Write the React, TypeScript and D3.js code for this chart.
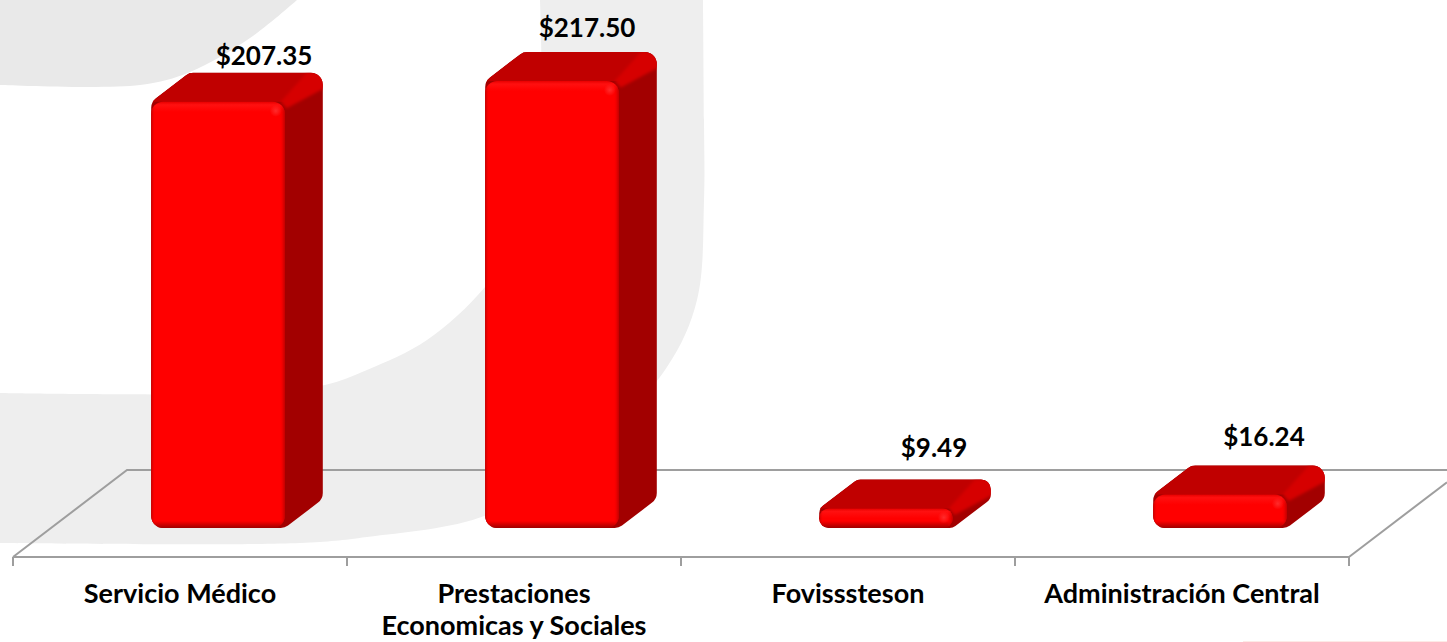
import React from 'react'
import * as d3 from 'd3'

const categories = ['Servicio Médico', 'Prestaciones\nEconomicas y Sociales', 'Fovisssteson', 'Administración Central']
const values = [207.35, 217.5, 9.49, 16.24]
const valueLabels = ['$207.35', '$217.50', '$9.49', '$16.24']

const width = 1447
const height = 642

// 3d projection of the chart floor: a bar is one third of the floor deep
const depthX = 38
const depthY = 29
const floorFront = 557

// the value labels were dragged by hand in the original chart
const labelShift = [[46, -8], [35, -15], [48, -22], [44, -20]]

// grey letter behind the chart
const markTop: [number, number][] = [[0, 85], [140, 85], [190, 72], [250, 38], [297, 0]]
const markOuter: [number, number][] = [[703, 0], [704, 120], [704, 200], [697, 300], [667, 367], [590, 450], [487, 515], [367, 537], [300, 543], [0, 543]]
const markInner: [number, number][] = [[0, 393], [250, 393], [325, 385], [367, 370], [427, 340], [485, 287], [525, 225], [540, 150], [540, 0]]

const x = d3.scaleBand<string>().domain(categories).range([13, 1349]).paddingInner(0.6).paddingOuter(0.3)
const y = d3.scaleLinear().domain([0, 217.5]).range([floorFront - depthY, 81])

function roundedPoly(points: [number, number][], r: number) {
  const p = d3.path()
  const n = points.length
  const last = points[n - 1]
  p.moveTo((last[0] + points[0][0]) / 2, (last[1] + points[0][1]) / 2)
  points.forEach((pt, i) => {
    const next = points[(i + 1) % n]
    p.arcTo(pt[0], pt[1], next[0], next[1], r)
  })
  p.closePath()
  return p.toString()
}

const curve = d3.line().curve(d3.curveCatmullRom.alpha(0.5))

function Bar({ category, value, i }: { category: string; value: number; i: number }) {
  const x0 = x(category) as number + depthX
  const x1 = x0 + x.bandwidth()
  const yBottom = y(0)
  const yTop = y(value)
  const h = yBottom - yTop
  const r = Math.min(12, h / 2)

  const outline = roundedPoly([
    [x0, yBottom], [x0, yTop], [x0 + depthX, yTop - depthY], [x1 + depthX, yTop - depthY],
    [x1 + depthX, yBottom - depthY], [x1, yBottom],
  ], r)
  const bevelHeight = 13

  return (
    <g>
      <clipPath id={`clip-${i}`}><path d={outline} /></clipPath>
      <linearGradient id={`front-${i}`} gradientUnits="userSpaceOnUse" x1={0} x2={0} y1={yTop} y2={yBottom}>
        <stop offset={0} stopColor="#e80000" />
        <stop offset={Math.min(0.5, 3 / h)} stopColor="#ff1010" />
        <stop offset={Math.min(0.5, 10 / h)} stopColor="#ff0000" />
        <stop offset={Math.max(0.5, 1 - 7 / h)} stopColor="#ff0000" />
        <stop offset={1} stopColor="#a00000" />
      </linearGradient>
      <path d={outline} fill="#a20000" />
      <g clipPath={`url(#clip-${i})`}>
        <polygon
          points={[[x0, yTop], [x0 + depthX, yTop - depthY], [x1 + depthX, yTop - depthY], [x1, yTop]].join(' ')}
          fill="#c00000"
        />
        <polygon
          points={[[x1 - 4, yTop], [x1 + depthX - 16, yTop - depthY], [x1 + depthX + 6, yTop - depthY], [x1 + depthX + 6, yTop - depthY + bevelHeight], [x1 + 2, yTop + bevelHeight * 0.5]].join(' ')}
          fill="#d60000"
          filter="url(#soft)"
        />
      </g>
      <rect x={x0} y={yTop} width={x1 - x0} height={h} rx={r} fill={`url(#front-${i})`} />
      <rect x={x0} y={yTop} width={x1 - x0} height={h} rx={r} fill="url(#edges)" />
      <circle cx={x1 - 9} cy={yTop + Math.min(9, h / 2)} r={6} fill="url(#spot)" />
    </g>
  )
}

export default function App() {
  const step = x.step()
  const [start, end] = x.range()
  const ticks = d3.range(categories.length + 1).map(i => start + i * step)
  const floorDX = depthX * 3
  const floorDY = depthY * 3
  const floorBack = floorFront - floorDY
  const rightDX = width - end

  return (
    <svg width={width} height={height} style={{ position: 'absolute', left: 0, top: 0, display: 'block' }}>
      <defs>
        <linearGradient id="edges" x1={0} x2={1} y1={0} y2={0}>
          <stop offset={0} stopColor="#a00000" stopOpacity={0.65} />
          <stop offset={0.03} stopColor="#ff0000" stopOpacity={0} />
          <stop offset={0.96} stopColor="#ff0000" stopOpacity={0} />
          <stop offset={1} stopColor="#b00000" stopOpacity={0.8} />
        </linearGradient>
        <radialGradient id="spot">
          <stop offset={0} stopColor="#ff3030" stopOpacity={0.9} />
          <stop offset={1} stopColor="#ff3030" stopOpacity={0} />
        </radialGradient>
        <filter id="soft" x="-20%" y="-20%" width="140%" height="140%">
          <feGaussianBlur stdDeviation={1.5} />
        </filter>
      </defs>

      <rect width={width} height={height} fill="#ffffff" />
      <path d={'M0,0L297,0L' + curve([...markTop].reverse())!.slice(1) + 'Z'} fill="#e9e9e9" />
      <path d={curve(markOuter) + 'L' + curve(markInner)!.slice(1) + 'Z'} fill="#eeeeee" />
      <rect x={1243} y={641} width={204} height={1} fill="#fdeae6" />

      <g stroke="#9e9e9e" strokeWidth={2} fill="none">
        <path d={`M${start},${floorFront}H${end}`} />
        <path d={`M${start},${floorFront}L${start + floorDX},${floorBack}H${width}`} />
        <path d={`M${end},${floorFront}L${width},${floorFront - rightDX * floorDY / floorDX}`} />
        {ticks.map(t => <line key={t} x1={t} x2={t} y1={floorFront} y2={floorFront + 9} />)}
      </g>

      {categories.map((c, i) => <Bar key={c} category={c} value={values[i]} i={i} />)}

      <g fontFamily="Lato" fontWeight={700} fill="#000000" textAnchor="middle">
        {categories.map((c, i) => {
          const barCentre = (x(c) as number) + depthX + x.bandwidth() / 2
          return (
            <text key={c} x={barCentre + labelShift[i][0]} y={y(values[i]) - depthY + labelShift[i][1]} fontSize={26}>
              {valueLabels[i]}
            </text>
          )
        })}
        {categories.map(c => (
          <text key={c} fontSize={27}>
            {c.split('\n').map((line, j) => (
              <tspan key={line} x={(x(c) as number) + x.bandwidth() / 2} y={603 + j * 32}>{line}</tspan>
            ))}
          </text>
        ))}
      </g>
    </svg>
  )
}
